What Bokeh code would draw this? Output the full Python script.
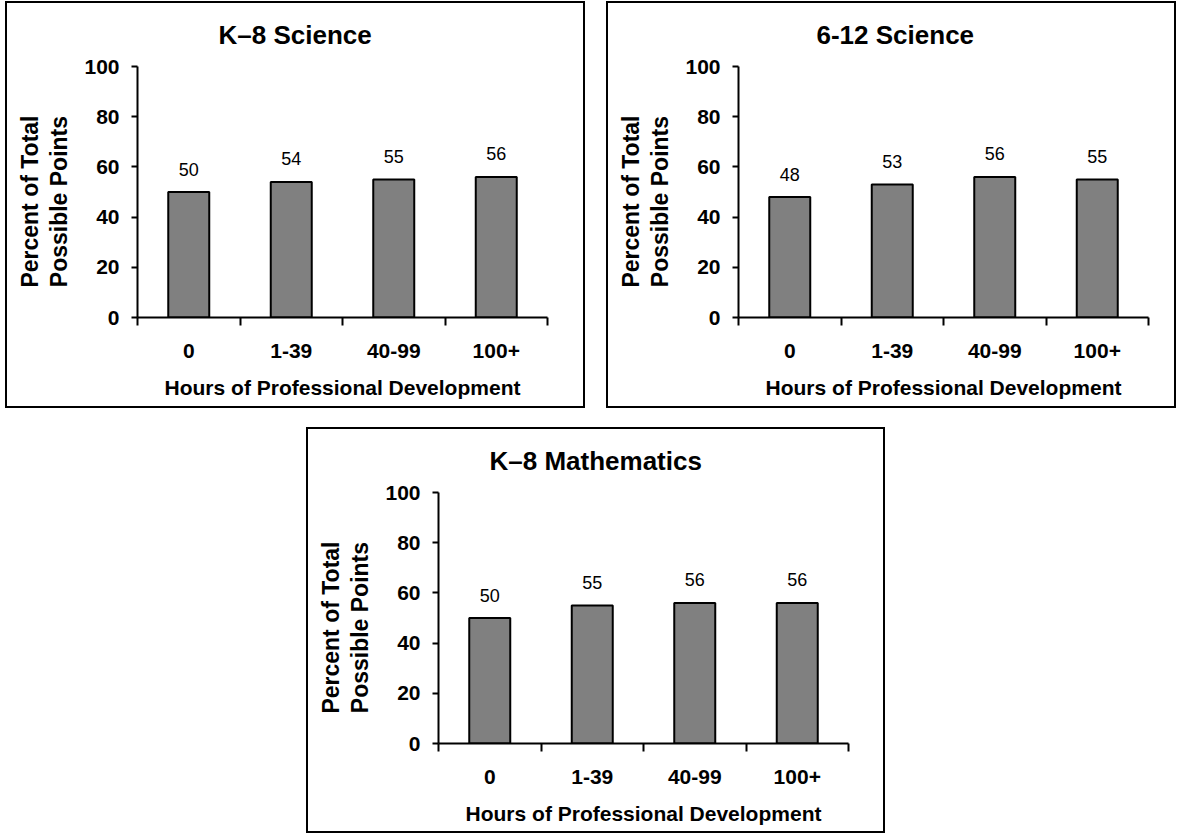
from bokeh.plotting import figure
from bokeh.models import Range1d, FixedTicker, Spacer
from bokeh.layouts import row, column
from bokeh.embed import file_html
from bokeh.resources import INLINE
from bokeh.core.properties import value

# ---- data ----
categories = ["0", "1-39", "40-99", "100+"]
k8_science = [50, 54, 55, 56]
science_6_12 = [48, 53, 56, 55]
k8_math = [50, 55, 56, 56]
titles = ["K\u20138 Science", "6-12 Science", "K\u20138 Mathematics"]
y_ticks = [0, 20, 40, 60, 80, 100]
x_label = "Hours of Professional Development"
y_label_lines = ["Percent of Total", "Possible Points"]

FONT = "Liberation Sans"
PAD = "\u00a0\u00a0\u00a0"  # nudges the rotated title slightly downwards


def make_panel(title, vals, width, height, left, right, top, bottom, title_offset):
    n = len(categories)
    xs = [i + 0.5 for i in range(n)]
    p = figure(width=width, height=height, x_range=Range1d(0, n), y_range=Range1d(0, 100),
               output_backend="svg", toolbar_location=None, title=title,
               min_border_left=left, min_border_right=right,
               min_border_top=top, min_border_bottom=bottom)
    p.styles = {"border": "2px solid black"}
    p.outline_line_color = None
    p.xgrid.visible = False
    p.ygrid.visible = False
    p.background_fill_color = "white"
    p.border_fill_color = None

    p.title.align = "left"
    p.title.vertical_align = "top"
    p.title.offset = title_offset
    p.title.standoff = 30
    p.title.text_font = FONT
    p.title.text_font_size = "26px"
    p.title.text_font_style = "bold"
    p.title.text_color = "black"

    p.vbar(x=xs, top=vals, bottom=0, width=0.4, fill_color="#808080",
           line_color="black", line_width=2)
    p.text(x=xs, y=vals, text=[str(v) for v in vals], text_align="center",
           text_baseline="alphabetic", y_offset=-23, text_font=value(FONT),
           text_font_size="18px", text_color="black")

    # x axis: labels at centres, ticks at category boundaries
    xa = p.xaxis[0]
    xa.ticker = FixedTicker(ticks=xs, minor_ticks=list(range(n + 1)))
    xa.major_label_overrides = {x: c for x, c in zip(xs, categories)}
    xa.major_tick_line_color = None
    xa.major_tick_out = 8
    xa.major_tick_in = 0
    xa.minor_tick_out = 8
    xa.minor_tick_in = 0
    xa.minor_tick_line_color = "black"
    xa.minor_tick_line_width = 2
    xa.axis_line_color = "black"
    xa.axis_line_width = 2
    xa.major_label_text_font = FONT
    xa.major_label_text_font_size = "21px"
    xa.major_label_text_font_style = "bold"
    xa.major_label_text_color = "black"
    xa.major_label_standoff = 18
    xa.axis_label = x_label
    xa.axis_label_text_font = FONT
    xa.axis_label_text_font_size = "21px"
    xa.axis_label_text_font_style = "bold"
    xa.axis_label_text_color = "black"
    xa.axis_label_standoff = 15

    ya = p.yaxis[0]
    ya.ticker = FixedTicker(ticks=y_ticks, minor_ticks=[])
    ya.major_tick_out = 6
    ya.major_tick_in = 0
    ya.major_tick_line_width = 2
    ya.major_tick_line_color = "black"
    ya.minor_tick_line_color = None
    ya.axis_line_color = "black"
    ya.axis_line_width = 2
    ya.major_label_text_font = FONT
    ya.major_label_text_font_size = "21px"
    ya.major_label_text_font_style = "bold"
    ya.major_label_text_color = "black"
    ya.major_label_standoff = 12
    ya.axis_label = "\n".join(line + PAD for line in y_label_lines)
    ya.axis_label_text_font = FONT
    ya.axis_label_text_font_size = "23px"
    ya.axis_label_text_font_style = "bold"
    ya.axis_label_text_color = "black"
    ya.axis_label_text_line_height = 1.15
    ya.axis_label_standoff = 9
    return p


p1 = make_panel(titles[0], k8_science, 580, 407, 130, 40, 63, 93, 81)
p2 = make_panel(titles[1], science_6_12, 570, 407, 130, 30, 63, 93, 78)
p3 = make_panel(titles[2], k8_math, 579, 406, 130, 39, 63, 92, 51)

top_row = row(p1, p2, spacing=21)
bottom_row = row(Spacer(width=301, height=10), p3)
layout = column(top_row, bottom_row, spacing=19, margin=(1, 0, -2, 5))

open("out.html", "w").write(file_html(layout, INLINE))
